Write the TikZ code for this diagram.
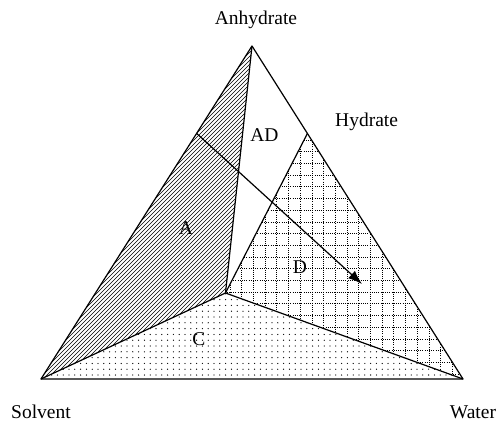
\documentclass[tikz,border=0pt]{standalone}
\usepackage{fontspec}
\setmainfont{Liberation Serif}
\usetikzlibrary{arrows.meta}
\begin{document}
\begin{tikzpicture}[x=1pt,y=-1pt,
  edge/.style={line width=1.2pt, line join=round},
  hatch/.style={line width=0.6pt},
  gridln/.style={line width=0.8pt, dash pattern=on 0.9pt off 1.3pt},
  lbl/.style={font=\fontsize{19.5}{22}\selectfont, inner sep=0pt}]
\useasboundingbox (0,0) rectangle (499,423);
\coordinate (An) at (252,46);
\coordinate (S) at (41,379);
\coordinate (W) at (463,379);
\coordinate (H) at (307.5,133.3);
\coordinate (P) at (225.5,293);
\coordinate (L) at (196.5,133.3);
\coordinate (T) at (362,284);
% region A hatching
\begin{scope}
  \clip (An) -- (S) -- (P) -- cycle;
  \foreach \k in {290,294,...,530} \draw[hatch] (\k-400,400) -- (\k,0);
\end{scope}
% region C dots
\begin{scope}
  \clip (S) -- (P) -- (W) -- cycle;
  \foreach \xx in {40,45.8,...,470}
    \foreach \yy in {288,293.8,...,382}
      \fill (\xx,\yy) circle (0.65);
\end{scope}
% region D dotted grid
\begin{scope}
  \clip (H) -- (P) -- (W) -- cycle;
  \foreach \xx in {230,241.7,...,470} \draw[gridln] (\xx,120) -- (\xx,385);
  \foreach \yy in {140,151.7,...,385} \draw[gridln] (220,\yy) -- (470,\yy);
\end{scope}
% edges
\draw[edge] (S) -- (W) -- (An) -- cycle;
\draw[edge] (An) -- (P);
\draw[edge] (S) -- (P) -- (W);
\draw[edge] (H) -- (P);
\draw[line width=1.2pt, -{Latex[length=14pt,width=10pt]}] (L) -- (T);
% labels
\node[lbl] (lAn) at (256,20) {Anhydrate};
\node[lbl] (lS) at (41,412) {Solvent};
\node[lbl] (lW) at (473,412) {Water};
\node[lbl, anchor=west] (lH) at (335,122) {Hydrate};
\node[lbl] (lAD) at (264.5,135) {AD};
\node[lbl] (lA) at (186,228) {A};
\node[lbl] (lD) at (300,267) {D};
\node[lbl] (lC) at (199,339) {C};
\end{tikzpicture}
\end{document}
